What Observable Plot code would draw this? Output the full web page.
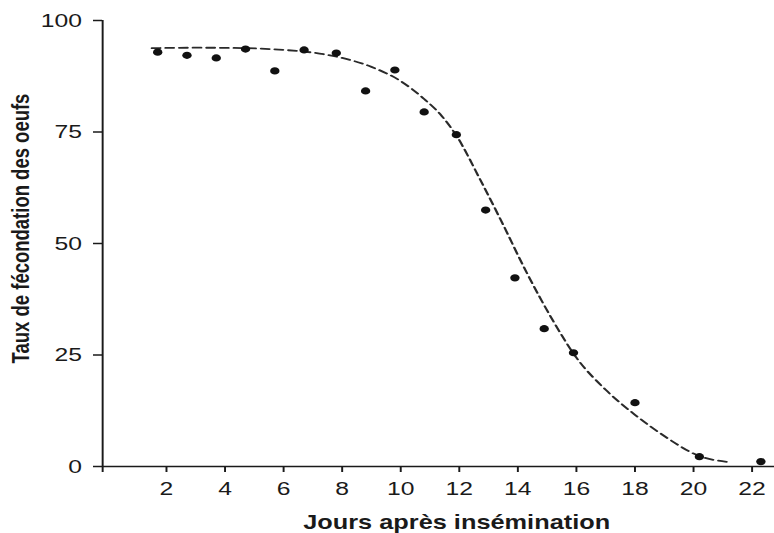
<!DOCTYPE html>
<html>
<head>
<meta charset="utf-8">
<script src="https://cdn.jsdelivr.net/npm/d3@7"></script>
<script src="https://cdn.jsdelivr.net/npm/@observablehq/plot@0.6"></script>
<style>
  html, body { margin: 0; padding: 0; background: #ffffff; }
  #chart svg { display: block; }
</style>
</head>
<body>
<div id="chart"></div>
<script>
// ---- data ----
const xTitle = "Jours après insémination";
const yTitle = "Taux de fécondation des oeufs";
const xTicks = [2, 4, 6, 8, 10, 12, 14, 16, 18, 20, 22];
const yTicks = [0, 25, 50, 75, 100];
const xDomain = [-0.18, 22.77];
const yDomain = [0, 100];

// observed points
const dayObs  = [1.7, 2.7, 3.7, 4.7, 5.7, 6.7, 7.8, 8.8, 9.8, 10.8, 11.9, 12.9, 13.9, 14.9, 15.9, 18.0, 20.2, 22.3];
const rateObs = [92.9, 92.2, 91.6, 93.6, 88.7, 93.4, 92.7, 84.2, 88.9, 79.5, 74.4, 57.5, 42.3, 30.9, 25.5, 14.3, 2.2, 1.1];

// fitted (dashed) curve
const dayFit  = [1.5, 3.0, 4.7, 6.0, 7.0, 8.0, 9.0, 10.0, 10.8, 11.4, 11.9, 12.7, 13.4, 14.3, 15.2, 16.0, 17.0, 18.0, 19.1, 20.1, 21.3];
const rateFit = [93.8, 93.9, 93.8, 93.4, 92.8, 91.6, 89.6, 86.4, 82.4, 78.6, 74.2, 64.5, 55.5, 43.5, 32.7, 24.4, 17.2, 11.6, 6.4, 2.6, 0.9];

// ---- build tables ----
const obs = dayObs.map((d, i) => ({day: d, rate: rateObs[i]}));
const fit = dayFit.map((d, i) => ({day: d, rate: rateFit[i]}));

// the scanned figure is stretched horizontally; reproduce by drawing narrower and stretching
const stretch = 1.3;
const W = 774, H = 533;
const innerW = W / stretch;

const ink = "#1a1a1a";

const chart = Plot.plot({
  width: innerW,
  height: H,
  marginLeft: 102 / stretch,
  marginRight: 0,
  marginTop: 20,
  marginBottom: 67,
  x: {domain: xDomain},
  y: {domain: yDomain},
  style: {
    fontFamily: "'Liberation Sans', Arial, Helvetica, sans-serif",
    color: ink,
    background: "#ffffff",
    overflow: "visible"
  },
  marks: [
    Plot.axisY({
      ticks: yTicks, tickSize: 9 / stretch, tickPadding: 9, fontSize: 19,
      tickFormat: d => String(d), label: null, strokeWidth: 1.5
    }),
    Plot.axisX({
      ticks: [xDomain[0], ...xTicks], tickSize: 6, tickPadding: 9, fontSize: 19,
      tickFormat: d => xTicks.includes(d) ? String(d) : "", label: null, strokeWidth: 1.5
    }),
    Plot.ruleX([xDomain[0]], {stroke: ink, strokeWidth: 1.5}),
    Plot.ruleY([0], {stroke: ink, strokeWidth: 1.7}),
    Plot.line(fit, {
      x: "day", y: "rate", curve: "monotone-x",
      stroke: "#2a2a2a", strokeWidth: 1.8, strokeDasharray: "6.5,4"
    }),
    Plot.dot(obs, {x: "day", y: "rate", r: 3.6, fill: "#111", stroke: "none"}),
    Plot.text([yTitle], {
      frameAnchor: "left", rotate: -90, dx: 16.2 - 102 / stretch, dy: -15,
      fontSize: 18.5, fontWeight: "bold", fill: ink, textAnchor: "middle", lineAnchor: "middle"
    }),
    Plot.text([xTitle], {
      frameAnchor: "bottom", dx: 456 / stretch - (102 / stretch + innerW) / 2, dy: 56,
      fontSize: 19.5, fontWeight: "bold", fill: ink, textAnchor: "middle", lineAnchor: "middle"
    })
  ]
});

chart.setAttribute("width", W);
chart.setAttribute("height", H);
chart.setAttribute("preserveAspectRatio", "none");
chart.style.width = W + "px";
chart.style.height = H + "px";
chart.style.maxWidth = "none";
document.getElementById("chart").appendChild(chart);
</script>
</body>
</html>
